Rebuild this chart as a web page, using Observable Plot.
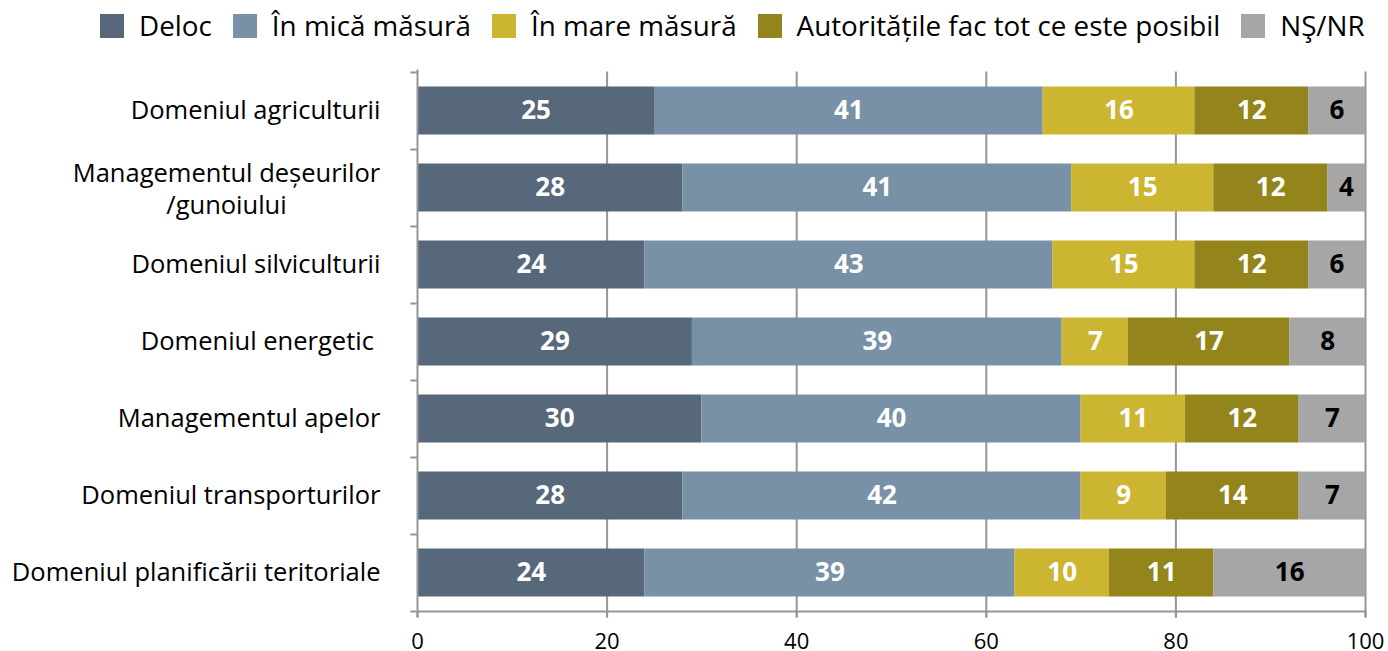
<!DOCTYPE html>
<html>
<head>
<meta charset="utf-8">
<script src="https://cdn.jsdelivr.net/npm/d3@7"></script>
<script src="https://cdn.jsdelivr.net/npm/@observablehq/plot@0.6"></script>
<style>
  html, body { margin: 0; padding: 0; background: #fff; }
  body { width: 1388px; height: 651px; overflow: hidden; font-family: "Open Sans", sans-serif; }
  #legend { height: 50px; display: flex; align-items: center; padding-left: 100px; padding-top: 2px; box-sizing: border-box; font-size: 27.8px; line-height: 1; color: #000; white-space: nowrap; }
  .item { display: flex; align-items: center; margin-right: 21px; }
  .sw { width: 24px; height: 24px; margin-right: 15px; flex: none; }
</style>
</head>
<body>
<div id="legend"></div>
<div id="chart"></div>
<script>
const categories = [
  "Domeniul agriculturii",
  "Managementul deșeurilor\n/gunoiului",
  "Domeniul silviculturii",
  "Domeniul energetic ",
  "Managementul apelor",
  "Domeniul transporturilor",
  "Domeniul planificării teritoriale"
];
const series = ["Deloc", "În mică măsură", "În mare măsură", "Autoritățile fac tot ce este posibil", "NŞ/NR"];
const colors = ["#56687a", "#7891a6", "#cbb531", "#93851b", "#a6a6a6"];

const deloc      = [25, 28, 24, 29, 30, 28, 24];
const micaMasura = [41, 41, 43, 39, 40, 42, 39];
const mareMasura = [16, 15, 15, 7, 11, 9, 10];
const autoritati = [12, 12, 12, 17, 12, 14, 11];
const nsnr       = [6, 4, 6, 8, 7, 7, 16];
const xTicks = [0, 20, 40, 60, 80, 100];
const gridTicks = [20, 40, 60, 80, 100];

const values = [deloc, micaMasura, mareMasura, autoritati, nsnr];
const data = categories.flatMap((c, i) => series.map((s, j) => ({cat: c, series: s, value: values[j][i]})));

// legend
const legend = document.getElementById("legend");
series.forEach((s, j) => {
  const it = document.createElement("div");
  it.className = "item";
  const sw = document.createElement("div");
  sw.className = "sw";
  sw.style.background = colors[j];
  const tx = document.createElement("span");
  tx.textContent = s;
  it.appendChild(sw); it.appendChild(tx);
  legend.appendChild(it);
});

const twoLine = categories[1];
const half = 38.5;

const chart = Plot.plot({
  width: 1388,
  height: 601,
  marginLeft: 417,
  marginRight: 23,
  marginTop: 21.5,
  marginBottom: 40.5,
  style: {fontFamily: "'Open Sans', sans-serif", fontSize: "25px", color: "#000", background: "#fff", overflow: "visible"},
  x: {domain: [0, 100], label: null},
  y: {domain: categories, padding: 0, label: null},
  color: {domain: series, range: colors},
  marks: [
    Plot.ruleX(gridTicks, {stroke: "#969696", strokeWidth: 2, insetBottom: -7}),
    Plot.barX(data, Plot.stackX({x: "value", y: "cat", fill: "series", insetTop: 14.5, insetBottom: 14.5})),
    Plot.text(data, Plot.stackX({x: "value", y: "cat", z: "series",
      text: d => d.series === "NŞ/NR" ? "" : String(d.value),
      fill: "white", fontWeight: "bold", fontSize: 26})),
    Plot.text(data, Plot.stackX({x: "value", y: "cat", z: "series",
      text: d => d.series === "NŞ/NR" ? String(d.value) : "",
      fill: "black", fontWeight: "bold", fontSize: 26})),
    Plot.ruleX([0], {stroke: "#969696", strokeWidth: 2, insetTop: -2, insetBottom: -7}),
    Plot.ruleY(categories, {y: d => d, x1: -0.7, x2: 0, dy: -half, stroke: "#969696", strokeWidth: 2}),
    Plot.ruleY([categories[categories.length - 1]], {y: d => d, x1: -0.7, x2: 100, dy: half, stroke: "#969696", strokeWidth: 2}),
    Plot.axisX(xTicks, {tickSize: 7, stroke: "#969696", strokeWidth: 2, fontSize: 22, tickPadding: 15, fill: "#000", label: null}),
    Plot.axisY({tickSize: 0, tickPadding: 37, fontSize: 25.5, fill: "#000", label: null,
      tickFormat: d => d === twoLine ? "" : d}),
    Plot.text([twoLine], {y: d => d, text: d => d, frameAnchor: "left", dx: -191, textAnchor: "middle", fontSize: 25.5, lineHeight: 1.22, fill: "#000"})
  ]
});
document.getElementById("chart").appendChild(chart);
</script>
</body>
</html>
